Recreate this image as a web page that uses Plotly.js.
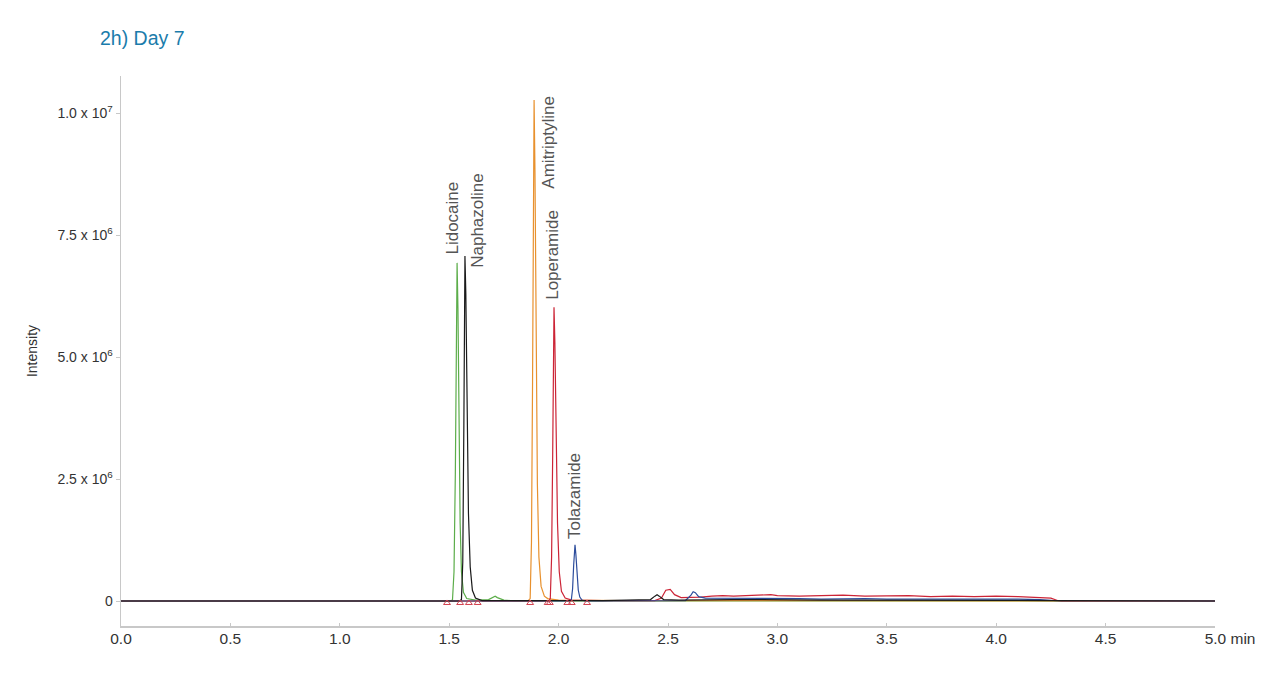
<!DOCTYPE html>
<html>
<head>
<meta charset="utf-8">
<script src="https://cdn.plot.ly/plotly-3.0.1.min.js"></script>
<style>html,body{margin:0;padding:0;background:#fff;}#chart{width:1280px;height:676px;}</style>
</head>
<body>
<div id="chart"></div>
<script>
// Intensities in units of 1e6 counts, time in minutes
const lidocaineT = [0, 1.50, 1.515, 1.522, 1.528, 1.532, 1.536, 1.540, 1.545, 1.550, 1.556, 1.565, 1.58, 1.62, 1.68, 1.70, 1.71, 1.72, 1.75, 1.80, 5.0];
const lidocaineI = [0, 0, 0.02, 0.6, 2.6, 5.4, 6.93, 6.0, 3.6, 1.6, 0.6, 0.18, 0.05, 0.02, 0.03, 0.08, 0.1, 0.07, 0.02, 0.0, 0];

const amitriptylineT = [0, 1.86, 1.870, 1.876, 1.881, 1.885, 1.888, 1.892, 1.897, 1.903, 1.91, 1.92, 1.935, 1.95, 2.0, 2.3, 5.0];
const amitriptylineI = [0, 0, 0.05, 1.2, 4.5, 8.6, 10.27, 8.8, 5.2, 2.4, 0.9, 0.3, 0.1, 0.05, 0.02, 0.01, 0];

const loperamideT = [0, 1.955, 1.962, 1.968, 1.973, 1.976, 1.979, 1.983, 1.988, 1.995, 2.003, 2.013, 2.03, 2.06, 2.2, 2.44, 2.47, 2.49, 2.51, 2.53, 2.56, 2.60, 2.65, 2.70, 2.75, 2.80, 2.90, 2.97, 3.00, 3.10, 3.20, 3.30, 3.40, 3.50, 3.60, 3.70, 3.80, 3.90, 4.00, 4.10, 4.20, 4.25, 4.28, 4.30, 5.0];
const loperamideI = [0, 0, 0.05, 0.9, 3.0, 5.2, 6.02, 5.3, 3.4, 1.6, 0.6, 0.2, 0.06, 0.02, 0.01, 0.01, 0.06, 0.22, 0.24, 0.13, 0.07, 0.07, 0.08, 0.10, 0.11, 0.10, 0.11, 0.13, 0.11, 0.10, 0.11, 0.12, 0.10, 0.10, 0.11, 0.09, 0.10, 0.09, 0.10, 0.09, 0.08, 0.06, 0.01, 0, 0];

const tolazamideT = [0, 2.05, 2.058, 2.064, 2.069, 2.072, 2.075, 2.079, 2.084, 2.090, 2.097, 2.107, 2.12, 2.58, 2.605, 2.615, 2.625, 2.64, 2.67, 2.70, 2.80, 2.90, 3.00, 3.10, 3.20, 3.30, 3.40, 3.50, 3.60, 3.70, 3.80, 3.90, 4.00, 4.10, 4.20, 4.25, 4.28, 5.0];
const tolazamideI = [0, 0, 0.02, 0.25, 0.75, 1.05, 1.15, 0.95, 0.55, 0.22, 0.08, 0.02, 0, 0.01, 0.12, 0.19, 0.17, 0.09, 0.06, 0.06, 0.05, 0.06, 0.05, 0.05, 0.04, 0.05, 0.05, 0.04, 0.04, 0.05, 0.05, 0.04, 0.04, 0.04, 0.03, 0.02, 0.005, 0];

const naphazolineT = [0, 1.548, 1.556, 1.562, 1.567, 1.570, 1.572, 1.576, 1.581, 1.588, 1.596, 1.606, 1.62, 1.65, 2.2, 2.42, 2.44, 2.45, 2.46, 2.48, 2.55, 2.8, 3.2, 3.6, 4.0, 4.27, 5.0];
const naphazolineI = [0, 0, 0.03, 0.8, 3.6, 6.2, 7.07, 6.3, 4.0, 1.8, 0.7, 0.22, 0.06, 0.01, 0.01, 0.03, 0.1, 0.13, 0.1, 0.03, 0.02, 0.03, 0.02, 0.02, 0.02, 0.01, 0];

const markerT = [1.49, 1.55, 1.59, 1.63, 1.87, 1.95, 1.96, 2.04, 2.06, 2.13];
const markerI = [-0.04, -0.04, -0.04, -0.04, -0.04, -0.04, -0.04, -0.04, -0.04, -0.04];

const yTickVals = [0, 2.5, 5, 7.5, 10];
const yTickText = ['0', '2.5 x 10<sup>6</sup>', '5.0 x 10<sup>6</sup>', '7.5 x 10<sup>6</sup>', '1.0 x 10<sup>7</sup>'];
const xTickVals = [0, 0.5, 1, 1.5, 2, 2.5, 3, 3.5, 4, 4.5, 5];
const NB = '\u00a0';
const xTickText = ['0.0', '0.5', '1.0', '1.5', '2.0', '2.5', '3.0', '3.5', '4.0', '4.5', NB.repeat(7) + '5.0 min'];

const peakNames = ['Lidocaine', 'Naphazoline', 'Amitriptyline', 'Loperamide', 'Tolazamide'];

function line(x, y, color, name) {
  return {x: x, y: y, type: 'scatter', mode: 'lines', name: name,
          line: {color: color, width: 1.2}, hoverinfo: 'x+y+name'};
}

const traces = [
  line(lidocaineT, lidocaineI, '#5cad4a', 'Lidocaine'),
  line(amitriptylineT, amitriptylineI, '#e8912e', 'Amitriptyline'),
  line(loperamideT, loperamideI, '#cc2436', 'Loperamide'),
  line(tolazamideT, tolazamideI, '#2d4d9c', 'Tolazamide'),
  line(naphazolineT, naphazolineI, '#1a1a1a', 'Naphazoline'),
  {x: markerT, y: markerI, type: 'scatter', mode: 'markers', name: 'Integration',
   marker: {symbol: 'triangle-up-open', size: 6, color: '#d2404e', line: {width: 1}}}
];

const labelPos = [
  {x: 1.513, y: 7.05},
  {x: 1.632, y: 6.78},
  {x: 1.956, y: 8.42},
  {x: 1.974, y: 6.13},
  {x: 2.070, y: 1.23}
];

const annotations = peakNames.map((n, i) => ({
  x: labelPos[i].x, y: labelPos[i].y, xref: 'x', yref: 'y',
  text: n, showarrow: false, textangle: -90,
  xanchor: 'center', yanchor: 'bottom',
  font: {family: 'Liberation Sans, Arial, sans-serif', size: 17, color: '#555555'}
}));

const layout = {
  width: 1280, height: 676,
  margin: {l: 121, r: 65, t: 76, b: 50},
  paper_bgcolor: '#ffffff', plot_bgcolor: '#ffffff',
  showlegend: false,
  font: {family: 'Liberation Sans, Arial, sans-serif', color: '#333333', size: 14},
  title: {text: '2h) Day 7', x: 100/1280, xanchor: 'left', xref: 'container', y: 1 - 38/676, yanchor: 'middle',
          yref: 'container', font: {size: 19.5, color: '#1b7cab'}},
  xaxis: {
    range: [0, 5], tickvals: xTickVals, ticktext: xTickText,
    showgrid: false, zeroline: false, showline: true, linecolor: '#c8c8c8', linewidth: 1.5,
    ticks: 'inside', ticklen: 3, tickcolor: '#c8c8c8', tickfont: {size: 15.5, color: '#333333'},
    ticklabelstandoff: -2
  },
  yaxis: {
    range: [-0.512, 10.76], tickvals: yTickVals, ticktext: yTickText,
    showgrid: false, zeroline: false, showline: true, linecolor: '#c8c8c8', linewidth: 1.5,
    ticks: 'outside', ticklen: 4, tickcolor: '#c8c8c8', tickfont: {size: 14, color: '#333333'},
    title: {text: 'Intensity', standoff: 16, font: {size: 14, color: '#333333'}}
  },
  annotations: annotations
};

Plotly.newPlot('chart', traces, layout, {displayModeBar: false, staticPlot: true});
</script>
</body>
</html>
